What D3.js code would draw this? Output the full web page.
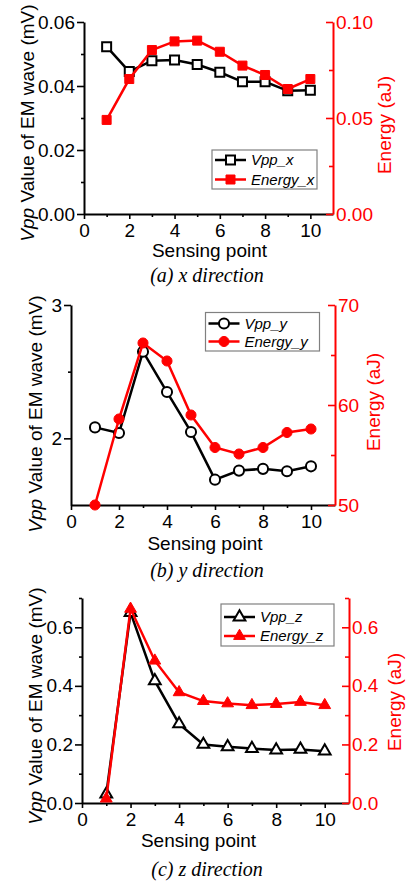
<!DOCTYPE html>
<html>
<head>
<meta charset="utf-8">
<script src="https://cdn.jsdelivr.net/npm/d3@7"></script>
<style>
body { margin: 0; background: #fff; }
svg { display: block; }
text { font-family: "Liberation Sans", Arial, sans-serif; }
</style>
</head>
<body>
<svg id="fig" width="406" height="881"></svg>
<script>
// values
const sensingPoints = [1, 2, 3, 4, 5, 6, 7, 8, 9, 10];
const xMajorTicks = [0, 2, 4, 6, 8, 10];
const xMinorTicks = [1, 3, 5, 7, 9];

const vppX = [0.0523, 0.0445, 0.0479, 0.0481, 0.0467, 0.0443, 0.0413, 0.0413, 0.0385, 0.0387];
const energyX = [0.049, 0.0703, 0.0854, 0.0899, 0.0903, 0.0845, 0.0773, 0.0724, 0.0651, 0.0703];
const vppY = [2.082, 2.04, 2.65, 2.347, 2.048, 1.69, 1.758, 1.771, 1.753, 1.79];
const energyY = [50.0, 58.6, 66.2, 64.4, 59.0, 55.75, 55.1, 55.75, 57.25, 57.6];
const vppZ = [0.03, 0.65, 0.417, 0.27, 0.2, 0.192, 0.186, 0.181, 0.183, 0.177];
const energyZ = [0.015, 0.663, 0.486, 0.378, 0.348, 0.34, 0.334, 0.338, 0.345, 0.334];

const vppTicksX = [0, 0.02, 0.04, 0.06], vppMinorX = [0.01, 0.03, 0.05];
const energyTicksX = [0, 0.05, 0.10], energyMinorX = [0.025, 0.075];
const vppTicksY = [2, 3], vppMinorY = [2.5];
const energyTicksY = [50, 60, 70], energyMinorY = [55, 65];
const vppTicksZ = [0, 0.2, 0.4, 0.6], vppMinorZ = [0.1, 0.3, 0.5, 0.7];
const energyTicksZ = [0, 0.2, 0.4, 0.6], energyMinorZ = [0.1, 0.3, 0.5, 0.7];

const legendX = ["Vpp_x", "Energy_x"];
const legendY = ["Vpp_y", "Energy_y"];
const legendZ = ["Vpp_z", "Energy_z"];
const captions = ["(a) x direction", "(b) y direction", "(c) z direction"];

const RED = "#ff0000";
const svg = d3.select("#fig");

const panels = [
    {
        vpp: vppX, energy: energyX, legend: legendX, caption: captions[0],
        marker: d3.symbolSquare, size: 81,
        vDom: [0, 0.06], vTicks: vppTicksX, vMinor: vppMinorX, vFmt: ".2f",
        eDom: [0, 0.10], eTicks: energyTicksX, eMinor: energyMinorX, eFmt: ".2f",
        left: 84, right: 333, top: 22, bottom: 214,
        legBox: [212, 150, 105, 39], rows: [10, 29.5],
        yTitle: [27.5, 123], eTitle: [384, 125], xTitle: [209.5, 257], cap: [207, 282]
    },
    {
        vpp: vppY, energy: energyY, legend: legendY, caption: captions[1],
        marker: d3.symbolCircle, size: 80,
        vDom: [1.5, 3], vTicks: vppTicksY, vMinor: vppMinorY, vFmt: "d",
        eDom: [50, 70], eTicks: energyTicksY, eMinor: energyMinorY, eFmt: "d",
        left: 71, right: 335, top: 305, bottom: 505,
        legBox: [205.5, 312.5, 114, 38.5], rows: [11, 29],
        yTitle: [35, 414], eTitle: [373, 402], xTitle: [205, 550], cap: [207, 577]
    },
    {
        vpp: vppZ, energy: energyZ, legend: legendZ, caption: captions[2],
        marker: d3.symbolTriangle, size: 60,
        vDom: [0, 0.7], vTicks: vppTicksZ, vMinor: vppMinorZ, vFmt: ".1f",
        eDom: [0, 0.7], eTicks: energyTicksZ, eMinor: energyMinorZ, eFmt: ".1f",
        left: 82, right: 349, top: 598, bottom: 803,
        legBox: [221, 604, 113, 42], rows: [13, 32],
        yTitle: [35, 706], eTitle: [394, 702], xTitle: [198.5, 847], cap: [207, 876]
    }
];

function styleAxis(sel, color, width) {
    sel.attr("font-size", 19).attr("font-family", "Liberation Sans, Arial, sans-serif");
    sel.select(".domain").attr("stroke", color).attr("stroke-width", width);
    sel.selectAll(".tick line").attr("stroke", color).attr("stroke-width", 1.6);
    sel.selectAll(".tick text").attr("fill", color);
}

function drawPanel(p) {
    const g = svg.append("g");
    const x = d3.scaleLinear().domain([0, 11]).range([p.left, p.right]);
    const yL = d3.scaleLinear().domain(p.vDom).range([p.bottom, p.top]);
    const yR = d3.scaleLinear().domain(p.eDom).range([p.bottom, p.top]);

    // minor ticks first
    g.append("g").attr("transform", `translate(0,${p.bottom})`)
        .call(d3.axisBottom(x).tickValues(xMinorTicks).tickSize(3).tickFormat(""))
        .call(s => { s.select(".domain").remove(); s.selectAll("line").attr("stroke", "#000").attr("stroke-width", 1.6); });
    g.append("g").attr("transform", `translate(${p.left},0)`)
        .call(d3.axisLeft(yL).tickValues(p.vMinor).tickSize(3).tickFormat(""))
        .call(s => { s.select(".domain").remove(); s.selectAll("line").attr("stroke", "#000").attr("stroke-width", 1.6); });
    g.append("g").attr("transform", `translate(${p.right},0)`)
        .call(d3.axisRight(yR).tickValues(p.eMinor).tickSize(-4).tickFormat(""))
        .call(s => { s.select(".domain").remove(); s.selectAll("line").attr("stroke", RED).attr("stroke-width", 1.6); });

    g.append("g").attr("transform", `translate(0,${p.bottom})`)
        .call(d3.axisBottom(x).tickValues(xMajorTicks).tickSize(5).tickSizeOuter(0).tickPadding(5))
        .call(s => styleAxis(s, "#000", 2));
    g.append("g").attr("transform", `translate(${p.left},0)`)
        .call(d3.axisLeft(yL).tickValues(p.vTicks).tickSize(7).tickSizeOuter(0).tickPadding(2)
            .tickFormat(d3.format(p.vFmt)))
        .call(s => styleAxis(s, "#000", 2));
    g.append("g").attr("transform", `translate(${p.right},0)`)
        .call(d3.axisRight(yR).tickValues(p.eTicks).tickSize(-7).tickSizeOuter(0).tickPadding(3)
            .tickFormat(d3.format(p.eFmt)))
        .call(s => styleAxis(s, RED, 2));

    const vppData = sensingPoints.map((s, i) => ({ s: s, v: p.vpp[i] }));
    const eData = sensingPoints.map((s, i) => ({ s: s, v: p.energy[i] }));
    const sym = d3.symbol().type(p.marker).size(p.size);

    g.append("path").datum(vppData)
        .attr("fill", "none").attr("stroke", "#000").attr("stroke-width", 2.5)
        .attr("d", d3.line().x(d => x(d.s)).y(d => yL(d.v)));
    g.selectAll(".mv").data(vppData).join("path")
        .attr("transform", d => `translate(${x(d.s)},${yL(d.v)})`)
        .attr("d", sym).attr("fill", "#fff").attr("stroke", "#000").attr("stroke-width", 2);

    g.append("path").datum(eData)
        .attr("fill", "none").attr("stroke", RED).attr("stroke-width", 2.5)
        .attr("d", d3.line().x(d => x(d.s)).y(d => yR(d.v)));
    g.selectAll(".me").data(eData).join("path")
        .attr("transform", d => `translate(${x(d.s)},${yR(d.v)})`)
        .attr("d", sym).attr("fill", RED).attr("stroke", RED).attr("stroke-width", 1);

    // legend
    const [bx, by, bw, bh] = p.legBox;
    g.append("rect").attr("x", bx).attr("y", by).attr("width", bw).attr("height", bh)
        .attr("fill", "#fff").attr("stroke", "#808080").attr("stroke-width", 1.2);
    p.legend.forEach((name, i) => {
        const ry = by + p.rows[i];
        const col = i == 0 ? "#000" : RED;
        g.append("line").attr("x1", bx + 3).attr("x2", bx + 34).attr("y1", ry).attr("y2", ry)
            .attr("stroke", col).attr("stroke-width", 2.5);
        g.append("path").attr("transform", `translate(${bx + 18.5},${ry})`).attr("d", sym)
            .attr("fill", i == 0 ? "#fff" : RED).attr("stroke", col).attr("stroke-width", i == 0 ? 2 : 1);
        g.append("text").attr("x", bx + 39).attr("y", ry).attr("dy", "0.36em")
            .attr("font-size", 15).attr("font-style", "italic").text(name);
    });

    // titles
    const yt = g.append("text")
        .attr("transform", `translate(${p.yTitle[0]},${p.yTitle[1]}) rotate(-90)`)
        .attr("text-anchor", "middle").attr("dy", "0.36em").attr("font-size", 19);
    yt.append("tspan").attr("font-style", "italic").text("Vpp");
    yt.append("tspan").text(" Value of EM wave (mV)");

    g.append("text")
        .attr("transform", `translate(${p.eTitle[0]},${p.eTitle[1]}) rotate(-90)`)
        .attr("text-anchor", "middle").attr("dy", "0.36em").attr("font-size", 19)
        .attr("fill", RED).text("Energy (aJ)");

    g.append("text").attr("x", p.xTitle[0]).attr("y", p.xTitle[1])
        .attr("text-anchor", "middle").attr("font-size", 19).text("Sensing point");

    g.append("text").attr("x", p.cap[0]).attr("y", p.cap[1])
        .attr("text-anchor", "middle").attr("font-size", 20).attr("font-style", "italic")
        .style("font-family", "'Liberation Serif', 'Times New Roman', serif")
        .text(p.caption);
}

panels.forEach(drawPanel);
</script>
</body>
</html>
